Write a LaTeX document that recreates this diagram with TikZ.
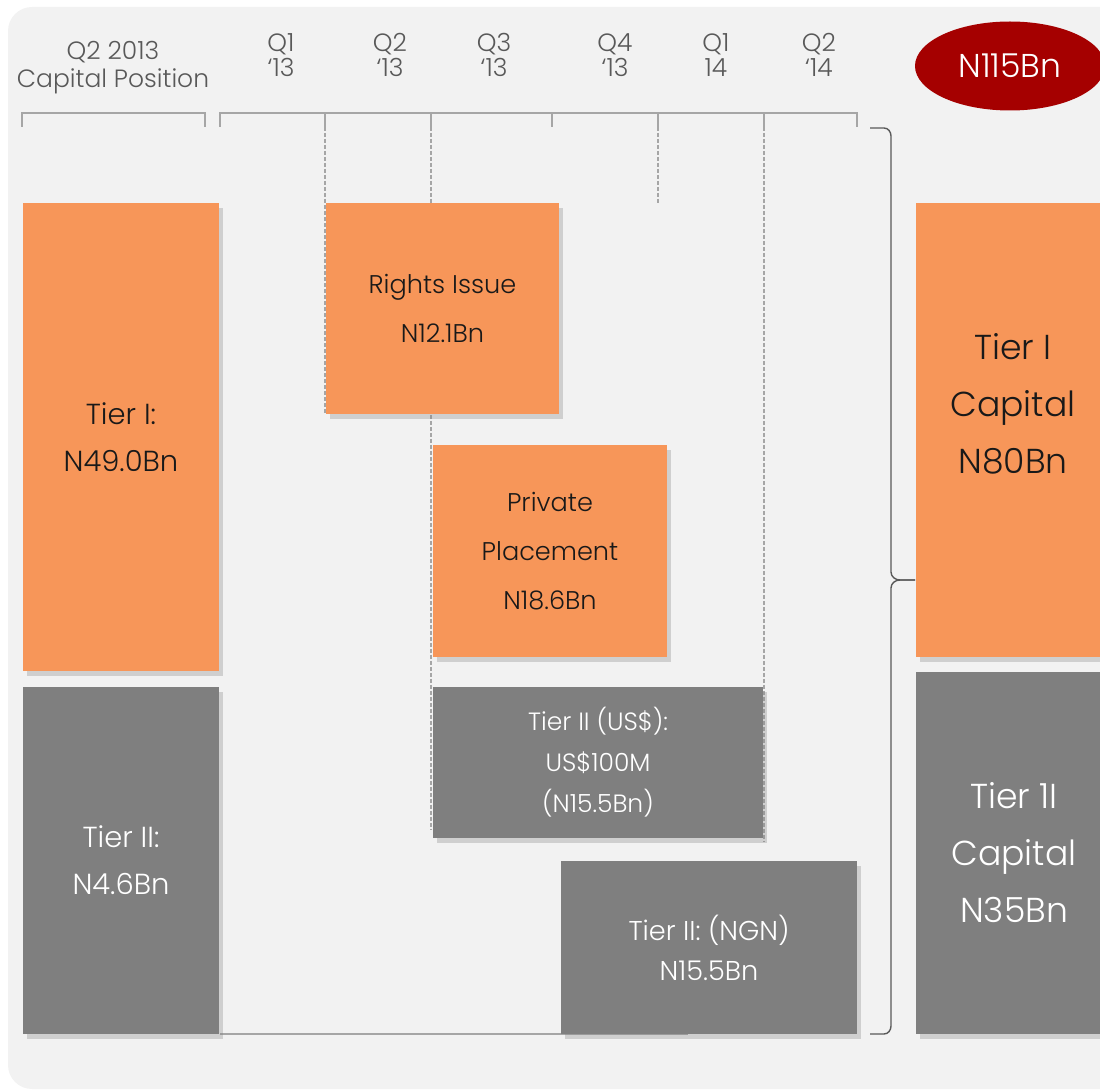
\documentclass[tikz,border=0pt]{standalone}
\usepackage{fontspec}
\setmainfont{Poppins}[UprightFont={* Light}]
\usetikzlibrary{positioning,shapes.geometric,shadows}
\definecolor{capOrange}{HTML}{F79659}
\definecolor{capGrey}{HTML}{7F7F7F}
\definecolor{capRed}{HTML}{A50000}
\definecolor{panelGrey}{HTML}{F2F2F2}
\definecolor{txtGrey}{HTML}{595959}
\definecolor{lineGrey}{HTML}{A6A6A6}
\tikzset{
  box/.style       = {inner sep=0pt, outer sep=0pt, align=center,
                      drop shadow={shadow xshift=2pt, shadow yshift=-2.5pt, opacity=0.3}},
  orangebox/.style = {box, fill=capOrange, text=black!90},
  greybox/.style   = {box, fill=capGrey, text=white},
  hdr/.style       = {font=\fontsize{12.5}{12.5}\selectfont, text=txtGrey, align=center, inner sep=0pt},
  brk/.style       = {draw=lineGrey, line width=0.8pt},
  guide/.style     = {draw=lineGrey, line width=0.6pt, dash pattern=on 2pt off 1pt},
  curly/.style     = {draw=txtGrey, line width=0.7pt},
  bigtxt/.style    = {font=\fontsize{14.5}{23.5}\selectfont},
  midtxt/.style    = {font=\fontsize{12.8}{24.5}\selectfont},
  smltxt/.style    = {font=\fontsize{12.5}{20.5}\selectfont},
  captxt/.style    = {font=\fontsize{17.3}{28.5}\selectfont},
}
\begin{document}
\begin{tikzpicture}[x=0.5pt, y=-0.5pt]
  \useasboundingbox (0,0) rectangle (1100,1091);
  \fill[panelGrey, rounded corners=12pt] (8,7) rectangle (1140,1089);

  % header labels
  \node[hdr, font=\fontsize{12.5}{14}\selectfont] (hpos) at (113,68) {Q2 2013\\Capital Position};
  \node[hdr] (hq1a) at (281,55) {Q1\\ ‘13};
  \node[hdr] (hq2a) at (390,55) {Q2\\ ‘13};
  \node[hdr] (hq3a) at (494,55) {Q3\\ ‘13};
  \node[hdr] (hq4a) at (615,55) {Q4\\ ‘13};
  \node[hdr] (hq1b) at (716,55) {Q1\\ 14};
  \node[hdr] (hq2b) at (819,55) {Q2\\ ‘14};
  \node[ellipse, fill=capRed, text=white, minimum width=95pt, minimum height=44.5pt,
        inner sep=0pt, font=\fontsize{16.5}{17}\selectfont] (total) at (1010,66) {N115Bn};

  % brackets and quarter ticks
  \coordinate (pL) at (22,113);  \coordinate (pR) at (205,113);
  \coordinate (tL) at (220,113); \coordinate (tR) at (857,113);
  \draw[brk] (pL) ++(0,14) -- (pL) -- (pR) -- ++(0,14);
  \draw[brk] (tL) ++(0,14) -- (tL) -- (tR) -- ++(0,14);
  \foreach \tx/\ty [count=\i] in {325/414, 431/830, 552/127, 658/203, 764/842} {
    \coordinate (tk\i) at (\tx,113);
    \coordinate (te\i) at (\tx,\ty);
    \draw[brk] (tk\i) -- ++(0,14) coordinate (tm\i);
    \draw[guide] (tm\i) -- (te\i);
  }

  % baseline and curly brace
  \coordinate (bL) at (220,1034); \coordinate (bR) at (688,1034);
  \draw[brk] (bL) -- (bR);
  \coordinate (cTop) at (870,128); \coordinate (cTip) at (915,580); \coordinate (cBot) at (870,1034);
  \draw[curly] (cTop) -- (884,128) to[out=0, in=90] (891,136) -- (891,572)
    to[out=-90, in=180] (900,580) -- (cTip);
  \draw[curly] (cTip) -- (900,580) to[out=180, in=90] (891,588) -- (891,1026)
    to[out=-90, in=0] (884,1034) -- (cBot);

  % starting position
  \node[orangebox, bigtxt, minimum width=98pt, minimum height=234pt] (tierI) at (121,437)
    {Tier I:\\N49.0Bn};
  \node[greybox, bigtxt, minimum width=98pt, minimum height=173.5pt] (tierII) at (121,860.5)
    {Tier II:\\N4.6Bn};

  % capital raised
  \node[orangebox, midtxt, minimum width=116.5pt, minimum height=105.5pt] (rights) at (442.5,308.5)
    {Rights Issue\\N12.1Bn};
  \node[orangebox, midtxt, minimum width=117pt, minimum height=106pt] (private) at (550,551)
    {Private\\Placement\\N18.6Bn};
  \node[greybox, smltxt, minimum width=165pt, minimum height=75.5pt] (usd) at (598,762.5)
    {Tier II (US\$):\\ US\$100M\\(N15.5Bn)};
  \node[greybox, font=\fontsize{13.6}{20}\selectfont, minimum width=148pt, minimum height=86.5pt] (ngn) at (709,947.5)
    {Tier II: (NGN)\\N15.5Bn};

  % resulting position
  \node[orangebox, minimum width=98pt, minimum height=227pt] (capI) at (1014,430) {};
  \node[captxt, align=center, text=black!90, inner sep=0pt] (capItxt) at (1013,404)
    {Tier I\\Capital\\N80Bn};
  \node[greybox, captxt, minimum width=98pt, minimum height=181pt] (capII) at (1014,853)
    {Tier 1I\\Capital\\N35Bn};
\end{tikzpicture}
\end{document}
